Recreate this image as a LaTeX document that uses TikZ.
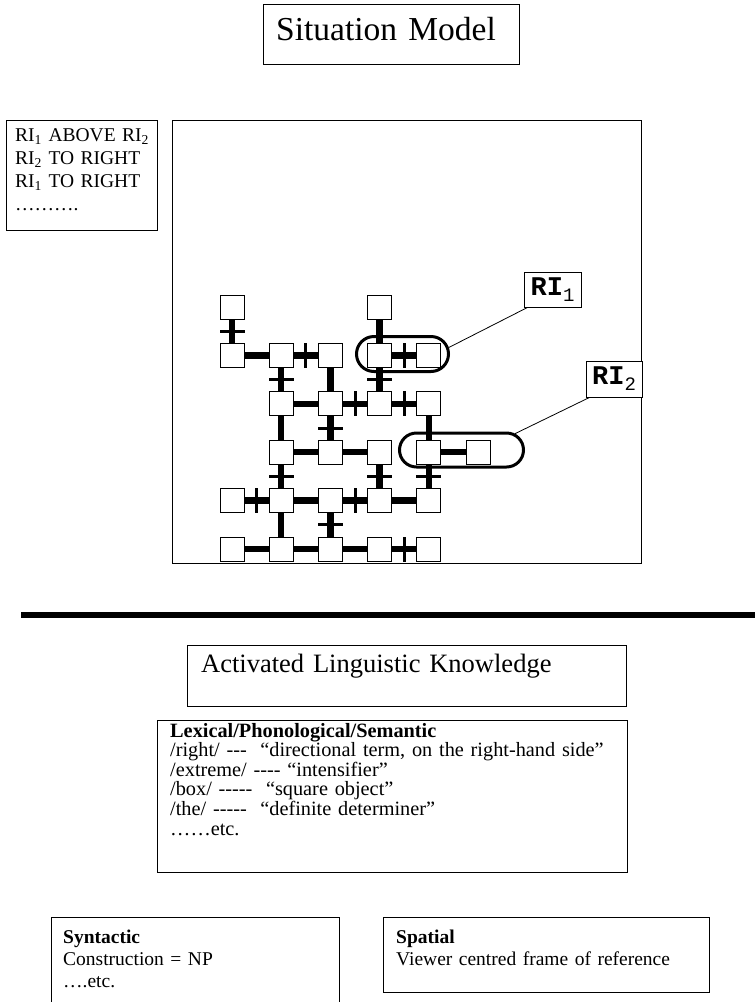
\documentclass[tikz,border=0pt]{standalone}
\usepackage{fontspec}
\setmainfont{Liberation Serif}[Ligatures=TeXOff]
\newfontfamily\rifont{Liberation Mono}
\usetikzlibrary{shapes.misc}
\newcommand\txtsz[1]{\fontsize{19.5}{#1}\selectfont}
\newcommand\rilab[1]{{\rifont\fontsize{27}{27}\selectfont\bfseries RI}{\rifont\fontsize{19}{19}\selectfont\raisebox{-6pt}{#1}}}
\tikzset{
  box/.style={draw, line width=1pt, inner sep=0pt},
  cell/.style={draw, fill=white, line width=0.8pt, minimum size=24pt, inner sep=0pt},
  link/.style={line width=6.5pt},
  vtick/.style={fill, inner sep=0pt, minimum width=3pt, minimum height=25pt},
  htick/.style={fill, inner sep=0pt, minimum width=25pt, minimum height=3pt},
  ring/.style={draw, rounded rectangle, line width=3pt, inner sep=0pt},
  rilabel/.style={draw, fill=white, line width=0.8pt, inner sep=0pt},
  textblock/.style={anchor=base west, inner sep=0pt, align=left, text width=#1},
}
\begin{document}
\begin{tikzpicture}[x=1pt, y=-1pt]
   \useasboundingbox (0,0) rectangle (755,1002);
   % situation model
   \node[box, minimum width=256pt, minimum height=60pt] (title) at (391,34) {};
   \node[textblock=240pt, font=\fontsize{33.5}{36}\selectfont] (titletext) at (276,40) {Situation Model};
   \node[box, minimum width=151pt, minimum height=110pt, anchor=north west] (rels) at (6,120) {};
   \node[textblock=140pt, font=\txtsz{23}] (relstext) at (15,141)
      {RI\textsubscript{1} ABOVE RI\textsubscript{2}\\RI\textsubscript{2} TO RIGHT\\RI\textsubscript{1} TO RIGHT\\……….};
   \node[box, minimum width=469pt, minimum height=443pt, anchor=north west] (scene) at (172,120) {};
   % grid of cells
   \foreach \r/\c in {0/0,0/3, 1/0,1/1,1/2,1/3,1/4, 2/1,2/2,2/3,2/4, 3/1,3/2,3/3,3/4,3/5,
                      4/0,4/1,4/2,4/3,4/4, 5/0,5/1,5/2,5/3,5/4}
      \node[cell] (n\r\c) at ({232+49.2*\c},{307+48.4*\r}) {};
   \foreach \a/\b in {03/13, 12/22, 21/31, 24/34, 41/51, 10/11, 21/22, 31/32, 32/33,
                      34/35, 41/42, 43/44, 50/51, 51/52, 52/53}
      \draw[link] (n\a) -- (n\b);
   \foreach \a/\b in {00/10, 11/21, 13/23, 22/32, 31/41, 33/43, 34/44, 42/52}
      \draw[link] (n\a) -- (n\b) node[midway, htick] {};
   \foreach \a/\b in {11/12, 13/14, 22/23, 23/24, 40/41, 42/43, 53/54}
      \draw[link] (n\a) -- (n\b) node[midway, vtick] {};
   % referents
   \node[ring, minimum width=92pt, minimum height=35pt] (ring1) at (402.5,354) {};
   \node[ring, minimum width=124pt, minimum height=34pt] (ring2) at (461.5,450) {};
   \node[rilabel, minimum width=57pt, minimum height=35pt] (ri1) at (552.5,289.5) {\rilab{1}};
   \node[rilabel, minimum width=56pt, minimum height=36pt] (ri2) at (614,379) {\rilab{2}};
   \draw[line width=0.8pt] ([xshift=4pt]ri1.south west) -- (ring1.8);
   \draw[line width=0.8pt] ([xshift=4pt]ri2.south west) -- (ring2.17);
   \draw[line width=6pt] (21,615) -- (755,615);
   % linguistic knowledge
   \node[box, minimum width=439pt, minimum height=61pt, anchor=north west] (active) at (187,645) {};
   \node[textblock=420pt, font=\fontsize{26.5}{30}\selectfont] (activetext) at (201,672) {Activated Linguistic Knowledge};
   \node[box, minimum width=470pt, minimum height=152pt, anchor=north west] (lexbox) at (157,720) {};
   \node[textblock=455pt, font=\fontsize{20.3}{19.6}\selectfont] (lextext) at (170,737)
      {\textbf{Lexical/Phonological/Semantic}\\
       /right/ ---\ \ “directional term, on the right-hand side”\\
       /extreme/ ---- “intensifier”\\
       /box/ -----\ \ “square object”\\
       /the/ -----\ \ “definite determiner”\\
       ……etc.};
   \draw[box] (51,1004) |- (339,917) -- (339,1004);
   \node[textblock=280pt, font=\txtsz{22}] (synttext) at (63,943) {\textbf{Syntactic}\\Construction = NP\\….etc.};
   \node[box, minimum width=326pt, minimum height=75pt, anchor=north west] (spatbox) at (383,917) {};
   \node[textblock=310pt, font=\txtsz{22}] (spattext) at (396,943) {\textbf{Spatial}\\Viewer centred frame of reference};
\end{tikzpicture}
\end{document}
